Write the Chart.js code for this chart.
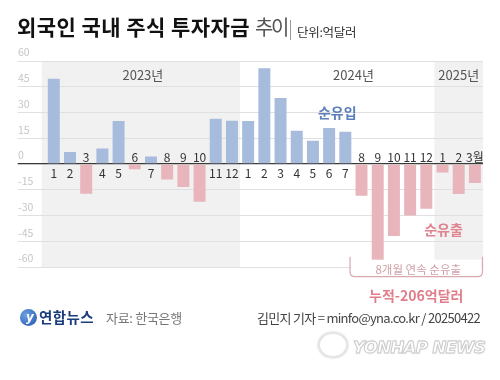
<!DOCTYPE html>
<html><head><meta charset="utf-8">
<script src="https://cdn.jsdelivr.net/npm/chart.js@4"></script>
<style>
html,body{margin:0;padding:0;background:#fff}
body{width:500px;height:380px;overflow:hidden;position:relative;font-family:"Noto Sans CJK KR","Noto Sans",sans-serif}
#wrap{position:absolute;left:0;top:0;width:500px;height:380px}
.t{position:absolute;white-space:nowrap;line-height:1}
</style></head><body>
<div id="wrap"><canvas id="c"></canvas></div>
<div class="t" style="left:17px;top:16px;font-size:21px;font-weight:700;letter-spacing:0.45px;color:#111">외국인 국내 주식 투자자금</div>
<div class="t" style="left:255px;top:17px;font-size:20px;font-weight:400;color:#555;letter-spacing:-2.5px">추이</div>
<div class="t" style="left:290px;top:20px;width:1px;height:20px;background:#999"></div>
<div class="t" style="left:297px;top:26px;font-size:12.5px;color:#333;letter-spacing:-0.3px">단위:억달러</div>

<div class="t" style="left:20px;top:309px;width:17px;height:17px;border-radius:50%;background:radial-gradient(circle at 35% 35%,#6fa0e0,#1f55b0);"></div>
<div class="t" style="left:26px;top:311px;font-size:12px;font-style:italic;font-weight:700;color:#fff;font-family:'DejaVu Sans'">y</div>
<div class="t" style="left:39px;top:310px;font-size:14.5px;font-weight:700;color:#1b3c7b;letter-spacing:0.4px">연합뉴스</div>
<div class="t" style="left:106px;top:311px;font-size:13px;color:#777;letter-spacing:-0.3px">자료: 한국은행</div>
<div class="t" style="right:20px;top:311px;font-size:13px;color:#444;letter-spacing:-0.7px">김민지 기자 = minfo@yna.co.kr / 20250422</div>

<div class="t" style="left:318px;top:332px;width:26px;height:22px;border-radius:50%;border:2px solid #e4e4e4;box-shadow:0 0 2px #bbb"></div>
<div class="t" style="left:353px;top:340px;font-size:16.5px;font-weight:900;font-style:italic;color:#fff;font-family:'DejaVu Sans';letter-spacing:-0.6px;-webkit-text-stroke:0.8px #c8c8c8;text-shadow:0 0 2px #bbb">YONHAP NEWS</div>

<script>
const months = ['1','2','3','4','5','6','7','8','9','10','11','12',
                '1','2','3','4','5','6','7','8','9','10','11','12',
                '1','2','3월'];
const netFlow = [49.7, 7, -17.3, 9, 25, -3, 4.4, -9, -13.4, -22, 26.3, 25.2,
                 25, 55.8, 38.4, 19.4, 13.5, 20.9, 18.8, -18.5, -56, -42, -30, -26,
                 -5, -17.5, -11];
const years = ['2023년','2024년','2025년'];
const yTicks = [-60,-45,-30,-15,0,15,30,45,60];

const BLUE='#a7bbdd', PINK='#e9b5bd';
const FONT='"Noto Sans CJK KR","Noto Sans",sans-serif';

const bandPlugin = {
  id:'bands',
  beforeDraw(chart){
    const {ctx, chartArea:a, scales:{x}} = chart;
    const b1 = (x.getPixelForValue(11)+x.getPixelForValue(12))/2;
    const b2 = (x.getPixelForValue(23)+x.getPixelForValue(24))/2;
    ctx.save();
    ctx.fillStyle='#f1f1f1';
    ctx.fillRect(a.left-4, a.top, b1-(a.left-4), a.bottom-a.top);
    ctx.fillRect(b2, a.top, a.right-b2, a.bottom-a.top);
    ctx.restore();
  }
};

const labelPlugin = {
  id:'labels',
  afterDatasetsDraw(chart){
    const {ctx, chartArea:a, scales:{x,y}} = chart;
    const z = y.getPixelForValue(0);
    ctx.save();
    ctx.textAlign='center'; ctx.textBaseline='middle';
    ctx.font='12px '+FONT; ctx.fillStyle='#333';
    months.forEach((m,i)=>{
      const px = x.getPixelForValue(i);
      ctx.fillText(m, px, netFlow[i]>=0 ? z+9.5 : z-7);
    });
    ctx.font='13px '+FONT; ctx.fillStyle='#555';
    const ty = a.top+14;
    ctx.fillText(years[0], (x.getPixelForValue(5)+x.getPixelForValue(6))/2, ty);
    ctx.fillText(years[1], (x.getPixelForValue(18)+x.getPixelForValue(19))/2, ty);
    ctx.fillText(years[2], x.getPixelForValue(25), ty);

    ctx.font='bold 14px '+FONT;
    ctx.fillStyle='#5b80bb';
    ctx.fillText('순유입', (x.getPixelForValue(17)+x.getPixelForValue(18))/2, y.getPixelForValue(30));
    ctx.fillStyle='#e0848f';
    ctx.fillText('순유출', x.getPixelForValue(24)+1, y.getPixelForValue(-38.5));

    // bracket
    const bl = x.getPixelForValue(19)-11.5, br = a.right-0.5;
    const bt = y.getPixelForValue(-54), bb = bt+20, r=5;
    ctx.fillStyle='#fff';
    ctx.fillRect(bl+1, bt+3, br-bl-2, bb-bt-3);
    ctx.strokeStyle='#d8a9af'; ctx.lineWidth=1.2;
    ctx.beginPath();
    ctx.moveTo(bl, bt); ctx.lineTo(bl, bb-r); ctx.quadraticCurveTo(bl, bb, bl+r, bb);
    ctx.lineTo(br-r, bb); ctx.quadraticCurveTo(br, bb, br, bb-r); ctx.lineTo(br, bt);
    ctx.stroke();
    const cx=(bl+br)/2+2;
    ctx.font='11.5px '+FONT; ctx.fillStyle='#cf9fa6';
    ctx.fillText('8개월 연속 순유출', cx, bt+13);
    ctx.font='bold 14px '+FONT; ctx.fillStyle='#e07f8b';
    ctx.fillText('누적-206억달러', cx-2, bb+19);
    ctx.restore();
  }
};

new Chart(document.getElementById('c'), {
  type:'bar',
  data:{ labels: months, datasets:[{ data: netFlow,
    backgroundColor: netFlow.map(v=> v>=0 ? BLUE : PINK),
    barPercentage:0.74, categoryPercentage:1 }]},
  options:{
    responsive:true, maintainAspectRatio:false, animation:false,
    layout:{padding:{left:18, top:61, right:17, bottom:113}},
    plugins:{legend:{display:false}, tooltip:{enabled:false}},
    scales:{
      x:{display:false, grid:{display:false}},
      y:{min:-60, max:60,
         afterFit(s){ s.width = 27.7; },
         afterBuildTicks(s){ s.ticks = yTicks.map(v=>({value:v})); },
         border:{display:false},
         grid:{ color: c => (c.tick && c.tick.value===0) ? '#3a3a3a' : '#e0e0e0',
                lineWidth: c => (c.tick && c.tick.value===0) ? 1.3 : 1,
                tickLength:28, drawTicks:true },
         ticks:{ crossAlign:'far', labelOffset:-8.5, padding:0, color:'#c6c6c6',
                 font:{size:10.5, family:FONT} }
      }
    }
  },
  plugins:[bandPlugin, labelPlugin]
});
</script>
</body></html>
